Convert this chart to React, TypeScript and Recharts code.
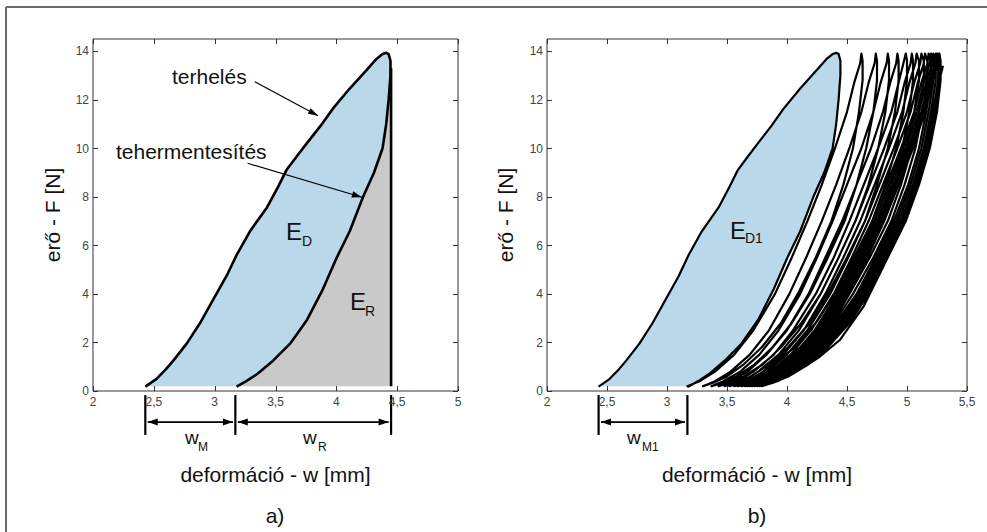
import React from 'react';
import { ComposedChart, Area, Line, XAxis, YAxis, ReferenceLine } from 'recharts';

// first cycle, [w (mm), F (N)]
const loading1: [number, number][] = [
  [2.43, 0.18], [2.52, 0.49], [2.6, 0.9], [2.66, 1.25], [2.77, 1.95], [2.88, 2.8],
  [2.99, 3.78], [3.1, 4.76], [3.18, 5.6], [3.29, 6.58], [3.43, 7.56], [3.52, 8.4],
  [3.59, 9.1], [3.68, 9.7], [3.76, 10.22], [3.87, 10.92], [3.97, 11.62], [4.11, 12.46],
  [4.25, 13.23], [4.33, 13.68], [4.38, 13.88], [4.41, 13.93], [4.43, 13.88],
];
const unloading1: [number, number][] = [
  [4.445, 13.6], [4.445, 13.0], [4.43, 12.0], [4.41, 11.0], [4.38, 10.0], [4.31, 9.0],
  [4.22, 8.0], [4.11, 6.58], [4.0, 5.46], [3.89, 4.2], [3.76, 2.94], [3.62, 1.95],
  [3.48, 1.25], [3.35, 0.7], [3.26, 0.41], [3.18, 0.18],
];
// recovered-energy edge (vertical line at the end of loading)
const releaseEdge: [number, number][] = [[4.45, 13.3], [4.45, 0.2]];

// later cycles (panel b): force levels shared by every branch, w read per cycle
const loadForce = [0.2, 0.4, 0.8, 1.5, 2.5, 4, 5.5, 7, 8.5, 10, 11.5, 12.7, 13.5, 13.9];
const unloadForce = [13.6, 12.8, 11.5, 10, 8.5, 7, 5.5, 4, 2.8, 1.8, 1.1, 0.6, 0.35, 0.2];
const cycleLoadW = [
  [3.17, 3.27, 3.4, 3.56, 3.72, 3.9, 4.04, 4.17, 4.29, 4.4, 4.5, 4.56, 4.61, 4.62],
  [3.3, 3.4, 3.53, 3.69, 3.85, 4.02, 4.16, 4.29, 4.41, 4.52, 4.62, 4.68, 4.73, 4.74],
  [3.37, 3.47, 3.61, 3.77, 3.93, 4.11, 4.25, 4.38, 4.5, 4.62, 4.72, 4.78, 4.83, 4.84],
  [3.43, 3.53, 3.67, 3.83, 4.0, 4.18, 4.32, 4.46, 4.58, 4.7, 4.8, 4.86, 4.91, 4.92],
  [3.48, 3.59, 3.72, 3.89, 4.05, 4.24, 4.39, 4.52, 4.64, 4.76, 4.87, 4.93, 4.97, 4.99],
  [3.52, 3.63, 3.76, 3.93, 4.1, 4.28, 4.43, 4.57, 4.69, 4.81, 4.92, 4.98, 5.03, 5.04],
  [3.56, 3.67, 3.8, 3.97, 4.14, 4.32, 4.47, 4.61, 4.73, 4.85, 4.96, 5.02, 5.07, 5.08],
  [3.59, 3.7, 3.84, 4.0, 4.17, 4.36, 4.51, 4.65, 4.77, 4.89, 5.0, 5.06, 5.11, 5.12],
  [3.62, 3.73, 3.87, 4.03, 4.2, 4.39, 4.54, 4.68, 4.8, 4.92, 5.03, 5.09, 5.14, 5.15],
  [3.65, 3.76, 3.9, 4.06, 4.23, 4.42, 4.57, 4.71, 4.83, 4.95, 5.06, 5.12, 5.17, 5.18],
  [3.67, 3.78, 3.92, 4.08, 4.25, 4.44, 4.59, 4.73, 4.85, 4.97, 5.08, 5.14, 5.19, 5.2],
  [3.69, 3.8, 3.94, 4.1, 4.27, 4.46, 4.61, 4.75, 4.87, 4.99, 5.1, 5.16, 5.21, 5.22],
  [3.71, 3.82, 3.96, 4.12, 4.29, 4.48, 4.63, 4.77, 4.89, 5.01, 5.12, 5.18, 5.23, 5.24],
  [3.73, 3.84, 3.97, 4.14, 4.31, 4.49, 4.64, 4.78, 4.9, 5.02, 5.13, 5.19, 5.24, 5.25],
  [3.75, 3.86, 3.99, 4.16, 4.32, 4.51, 4.66, 4.79, 4.91, 5.03, 5.14, 5.2, 5.25, 5.26],
  [3.77, 3.88, 4.01, 4.18, 4.34, 4.52, 4.67, 4.81, 4.93, 5.05, 5.15, 5.21, 5.26, 5.27],
];
const cycleUnloadW = [
  [4.63, 4.63, 4.6, 4.55, 4.47, 4.37, 4.24, 4.09, 3.95, 3.79, 3.64, 3.5, 3.39, 3.3],
  [4.75, 4.75, 4.72, 4.66, 4.58, 4.48, 4.34, 4.19, 4.04, 3.88, 3.73, 3.58, 3.47, 3.37],
  [4.85, 4.85, 4.82, 4.76, 4.68, 4.57, 4.43, 4.28, 4.12, 3.95, 3.8, 3.64, 3.53, 3.43],
  [4.93, 4.93, 4.9, 4.84, 4.75, 4.65, 4.5, 4.34, 4.19, 4.01, 3.85, 3.7, 3.58, 3.48],
  [5.0, 5.0, 4.97, 4.91, 4.82, 4.71, 4.56, 4.4, 4.24, 4.06, 3.9, 3.74, 3.62, 3.52],
  [5.05, 5.05, 5.02, 4.96, 4.87, 4.76, 4.61, 4.45, 4.29, 4.11, 3.95, 3.78, 3.66, 3.56],
  [5.1, 5.1, 5.06, 5.0, 4.91, 4.8, 4.65, 4.48, 4.32, 4.14, 3.98, 3.81, 3.69, 3.59],
  [5.14, 5.14, 5.1, 5.04, 4.95, 4.84, 4.69, 4.52, 4.36, 4.18, 4.01, 3.85, 3.73, 3.62],
  [5.17, 5.17, 5.13, 5.07, 4.98, 4.87, 4.72, 4.55, 4.39, 4.21, 4.04, 3.88, 3.76, 3.65],
  [5.2, 5.2, 5.16, 5.1, 5.01, 4.89, 4.74, 4.58, 4.41, 4.23, 4.06, 3.9, 3.78, 3.67],
  [5.22, 5.22, 5.18, 5.12, 5.03, 4.91, 4.76, 4.6, 4.43, 4.25, 4.08, 3.92, 3.8, 3.69],
  [5.24, 5.24, 5.2, 5.14, 5.05, 4.93, 4.78, 4.62, 4.45, 4.27, 4.1, 3.94, 3.82, 3.71],
  [5.26, 5.26, 5.22, 5.16, 5.07, 4.95, 4.8, 4.64, 4.47, 4.29, 4.12, 3.96, 3.84, 3.73],
  [5.27, 5.27, 5.23, 5.17, 5.08, 4.97, 4.82, 4.65, 4.49, 4.31, 4.14, 3.98, 3.86, 3.75],
  [5.28, 5.28, 5.24, 5.18, 5.09, 4.98, 4.83, 4.66, 4.5, 4.32, 4.16, 3.99, 3.87, 3.77],
  [5.28, 5.28, 5.25, 5.19, 5.1, 4.99, 4.84, 4.68, 4.52, 4.34, 4.18, 4.01, 3.89, 3.79],
];
const finalForce = [0.2, 0.4, 0.8, 1.4, 2.1, 3.5, 5.2, 6.8, 7.7, 9.3, 10.8, 11.9, 12.8, 13.4];
const finalW = [3.79, 3.92, 4.08, 4.27, 4.44, 4.64, 4.81, 4.94, 5.01, 5.11, 5.18, 5.23, 5.27, 5.3];

const xTicksA = [2, 2.5, 3, 3.5, 4, 4.5, 5];
const xTicksB = [2, 2.5, 3, 3.5, 4, 4.5, 5, 5.5];
const yTicks = [0, 2, 4, 6, 8, 10, 12, 14];
const yDomain: [number, number] = [0, 14.5];

// annotation arrows and width brackets, data units
const arrowsA = [
  [[3.33, 12.74], [3.85, 11.34]],
  [[3.27, 9.38], [4.21, 7.98]],
];
const bracketBarsA = [2.43, 3.17, 4.45];
const bracketBarsB = [2.43, 3.17];
const bracketSpan = [-0.17, -1.81];
const bracketArrowF = -1.28;

const pts = (arr: [number, number][]) => arr.map(([w, F]) => ({ w, F }));
const zipPts = (ws: number[], fs: number[]) => ws.map((w, i) => ({ w, F: fs[i] }));

const loopData = pts([...loading1, ...unloading1]);
const grayData = pts([...[...unloading1].reverse(), ...releaseEdge]);
const edgeData = pts(releaseEdge);
const cyclicData = [
  ...loopData,
  ...cycleLoadW.flatMap((lw, i) => [...zipPts(lw, loadForce), ...zipPts(cycleUnloadW[i], unloadForce)]),
  ...zipPts(finalW, finalForce),
];

const FONT = '"Liberation Sans", Arial, sans-serif';
const BLUE = '#b9d8ea';
const GRAY = '#c9c9c9';
const AXIS = '#333';
const fmt = (v: number) => String(v).replace('.', ',');
const tickStyle = { fontSize: 12, fill: '#444', fontFamily: FONT };

// plot boxes on the page (follow from the chart margins below)
const boxA = { left: 93, right: 458, top: 39, bottom: 391, domain: [2, 5] as [number, number], ticks: xTicksA };
const boxB = { left: 547, right: 967, top: 39, bottom: 391, domain: [2, 5.5] as [number, number], ticks: xTicksB };

const arrowShape = (both: boolean, head: number, half: number, sw: number) => (p: any) => {
  const { x1, y1, x2, y2 } = p;
  const a = Math.atan2(y2 - y1, x2 - x1);
  const tip = (x: number, y: number, ang: number) => {
    const bx = x - head * Math.cos(ang);
    const by = y - head * Math.sin(ang);
    const nx = -Math.sin(ang) * half;
    const ny = Math.cos(ang) * half;
    return `${x},${y} ${bx + nx},${by + ny} ${bx - nx},${by - ny}`;
  };
  return (
    <g>
      <line x1={x1} y1={y1} x2={x2} y2={y2} stroke="#000" strokeWidth={sw} />
      <polygon points={tip(x2, y2, a)} fill="#000" />
      {both && <polygon points={tip(x1, y1, a + Math.PI)} fill="#000" />}
    </g>
  );
};

function Axes({ domain, ticks }: { domain: [number, number]; ticks: number[] }) {
  const line = { stroke: AXIS, strokeWidth: 1 };
  return [
    <XAxis key="xb" xAxisId="b" type="number" dataKey="w" domain={domain} ticks={ticks} interval={0}
      tickFormatter={fmt} height={1} tickLine={false} tickSize={0} tickMargin={6} tick={tickStyle}
      axisLine={line} allowDataOverflow />,
    <XAxis key="xt" xAxisId="t" orientation="top" type="number" domain={domain} ticks={ticks} interval={0}
      height={1} tickLine={false} tick={false} axisLine={line} allowDataOverflow />,
    <YAxis key="yl" yAxisId="l" type="number" dataKey="F" domain={yDomain} ticks={yTicks} interval={0}
      width={1} tickLine={false} tickSize={0} tickMargin={4} tick={tickStyle} axisLine={line} allowDataOverflow />,
    <YAxis key="yr" yAxisId="r" orientation="right" type="number" domain={yDomain} ticks={yTicks}
      interval={0} width={1} tickLine={false} tick={false} axisLine={line} allowDataOverflow />,
  ];
}

// inward 5px tick marks on the four sides of a plot box
function BoxTicks({ box }: { box: typeof boxA }) {
  const { left, right, top, bottom, domain, ticks } = box;
  const px = (v: number) => Math.round(left + ((v - domain[0]) / (domain[1] - domain[0])) * (right - left)) + 0.5;
  const py = (f: number) => Math.round(bottom - ((f - yDomain[0]) / (yDomain[1] - yDomain[0])) * (bottom - top)) + 0.5;
  return (
    <g stroke={AXIS} strokeWidth={1}>
      {ticks.map((v) => (
        <g key={`x${v}`}>
          <line x1={px(v)} x2={px(v)} y1={bottom} y2={bottom - 5} />
          <line x1={px(v)} x2={px(v)} y1={top} y2={top + 5} />
        </g>
      ))}
      {yTicks.map((f) => (
        <g key={`y${f}`}>
          <line x1={left} x2={left + 5} y1={py(f)} y2={py(f)} />
          <line x1={right} x2={right - 5} y1={py(f)} y2={py(f)} />
        </g>
      ))}
    </g>
  );
}

function Brackets({ bars }: { bars: number[] }) {
  const out: React.ReactNode[] = [];
  bars.forEach((w) =>
    out.push(
      <ReferenceLine key={`bar${w}`} xAxisId="b" yAxisId="l" ifOverflow="visible"
        segment={[{ x: w, y: bracketSpan[0] }, { x: w, y: bracketSpan[1] }]} stroke="#000" strokeWidth={2.2} />,
    ),
  );
  bars.slice(1).forEach((w, i) =>
    out.push(
      <ReferenceLine key={`arr${w}`} xAxisId="b" yAxisId="l" ifOverflow="visible"
        segment={[{ x: bars[i] + 0.02, y: bracketArrowF }, { x: w - 0.02, y: bracketArrowF }]}
        shape={arrowShape(true, 10, 3.5, 1.8)} />,
    ),
  );
  return out;
}

function ChartA() {
  return (
    <ComposedChart width={493} height={532} margin={{ top: 38, right: 34, bottom: 140, left: 92 }}>
      {Axes({ domain: boxA.domain, ticks: xTicksA })}
      <Area xAxisId="b" yAxisId="l" data={grayData} dataKey="F" type="linear" baseValue={0.2}
        fill={GRAY} fillOpacity={1} stroke="none" dot={false} activeDot={false} isAnimationActive={false} />
      <Area xAxisId="b" yAxisId="l" data={loopData} dataKey="F" type="linear" baseValue={0.2}
        fill={BLUE} fillOpacity={1} stroke="#000" strokeWidth={2.6} strokeLinejoin="round"
        dot={false} activeDot={false} isAnimationActive={false} />
      <Line xAxisId="b" yAxisId="l" data={edgeData} dataKey="F" type="linear" stroke="#000"
        strokeWidth={2.6} dot={false} activeDot={false} isAnimationActive={false} />
      {arrowsA.map(([s, e], i) => (
        <ReferenceLine key={`an${i}`} xAxisId="b" yAxisId="l" ifOverflow="visible"
          segment={[{ x: s[0], y: s[1] }, { x: e[0], y: e[1] }]} shape={arrowShape(false, 10, 3.2, 1.2)} />
      ))}
      {Brackets({ bars: bracketBarsA })}
    </ComposedChart>
  );
}

function ChartB() {
  return (
    <ComposedChart width={494} height={532} margin={{ top: 38, right: 19, bottom: 140, left: 53 }}>
      {Axes({ domain: boxB.domain, ticks: xTicksB })}
      <Area xAxisId="b" yAxisId="l" data={loopData} dataKey="F" type="linear" baseValue={0.2}
        fill={BLUE} fillOpacity={1} stroke="none" dot={false} activeDot={false} isAnimationActive={false} />
      <Line xAxisId="b" yAxisId="l" data={cyclicData} dataKey="F" type="linear" stroke="#000"
        strokeWidth={2.2} strokeLinejoin="round" dot={false} activeDot={false} isAnimationActive={false} />
      {Brackets({ bars: bracketBarsB })}
    </ComposedChart>
  );
}

export default function App() {
  const t = { fontFamily: FONT, fill: '#111' } as const;
  return (
    <div style={{ position: 'absolute', left: 0, top: 0, width: 987, height: 532, background: '#fff', overflow: 'hidden' }}>
      <div style={{ position: 'absolute', left: 0, top: 0 }}><ChartA /></div>
      <div style={{ position: 'absolute', left: 493, top: 0 }}><ChartB /></div>
      <svg width={987} height={532} style={{ position: 'absolute', left: 0, top: 0, pointerEvents: 'none' }}>
        <line x1={6} y1={7} x2={987} y2={7} stroke="#6b6b6b" strokeWidth={2} />
        <line x1={6} y1={7} x2={6} y2={532} stroke="#6b6b6b" strokeWidth={2} />
        <BoxTicks box={boxA} />
        <BoxTicks box={boxB} />
        <g style={t} fontSize={21} dominantBaseline="central">
          <text x={172} y={76}>terhelés</text>
          <text x={116} y={151}>tehermentesítés</text>
          <text x={275.5} y={474} textAnchor="middle">deformáció - w [mm]</text>
          <text x={757} y={474} textAnchor="middle">deformáció - w [mm]</text>
          <text x={275} y={515} textAnchor="middle">a)</text>
          <text x={757} y={515} textAnchor="middle">b)</text>
          <text transform="translate(52,215) rotate(-90)" textAnchor="middle">erő - F [N]</text>
          <text transform="translate(505,215) rotate(-90)" textAnchor="middle">erő - F [N]</text>
        </g>
        <g style={t} dominantBaseline="central">
          <text x={286} y={231} fontSize={24}>E</text>
          <text x={302} y={241} fontSize={14}>D</text>
          <text x={350} y={301} fontSize={24}>E</text>
          <text x={365} y={311} fontSize={14}>R</text>
          <text x={730} y={230} fontSize={24}>E</text>
          <text x={745} y={238} fontSize={14}>D1</text>
          <text x={185} y={437} fontSize={19}>w</text>
          <text x={198} y={447} fontSize={12}>M</text>
          <text x={303} y={437} fontSize={19}>w</text>
          <text x={318} y={447} fontSize={12}>R</text>
          <text x={627} y={437} fontSize={19}>w</text>
          <text x={642} y={447} fontSize={12}>M1</text>
        </g>
      </svg>
    </div>
  );
}
